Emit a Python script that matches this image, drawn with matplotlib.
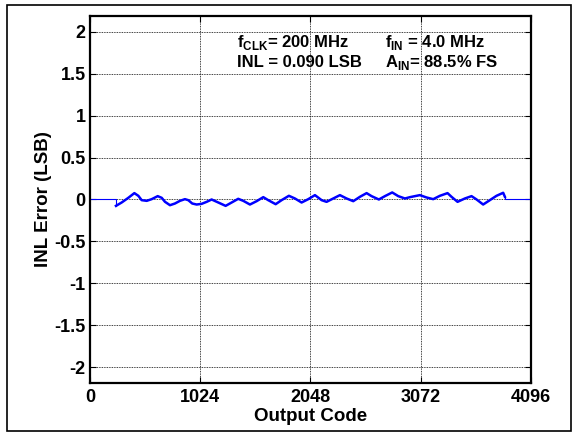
import numpy as np
import matplotlib.pyplot as plt
from matplotlib.patches import Rectangle

plt.rcParams['font.family'] = ['Liberation Sans', 'DejaVu Sans']
plt.rcParams['font.weight'] = 'bold'
plt.rcParams['mathtext.fontset'] = 'custom'
plt.rcParams['mathtext.rm'] = 'Liberation Sans:bold'
plt.rcParams['mathtext.bf'] = 'Liberation Sans:bold'

# INL curve (code, LSB)
codes = [241, 294, 356, 412, 449, 480, 527, 573, 629, 666, 697, 743, 789,
         836, 882, 913, 950, 991, 1037, 1084, 1130, 1192, 1260, 1316, 1377,
         1424, 1486, 1548, 1610, 1656, 1725, 1780, 1848, 1904, 1966, 2028,
         2090, 2152, 2198, 2260, 2322, 2384, 2446, 2508, 2570, 2616, 2684,
         2740, 2808, 2864, 2926, 2973, 3065, 3127, 3189, 3251, 3322, 3359,
         3415, 3483, 3545, 3592, 3653, 3715, 3777, 3839, 3855]
inl = [-0.076, -0.036, 0.02, 0.076, 0.044, -0.008, -0.016, 0.004, 0.04,
       0.02, -0.028, -0.068, -0.048, -0.016, 0.004, -0.008, -0.048, -0.06,
       -0.052, -0.028, 0.0, -0.036, -0.076, -0.036, 0.008, -0.016, -0.06,
       -0.02, 0.028, -0.008, -0.056, -0.008, 0.044, 0.012, -0.036, 0.004,
       0.052, -0.008, -0.028, 0.012, 0.052, 0.012, -0.02, 0.032, 0.076,
       0.04, 0.0, 0.04, 0.084, 0.04, 0.012, 0.028, 0.052, 0.024, 0.004,
       0.044, 0.076, 0.032, -0.028, 0.012, 0.04, 0.0, -0.06, -0.008, 0.044,
       0.08, 0.032]

x_ticks = [0, 1024, 2048, 3072, 4096]
y_ticks = [-2, -1.5, -1, -0.5, 0, 0.5, 1, 1.5, 2]
y_labels = ['-2', '-1.5', '-1', '-0.5', '0', '0.5', '1', '1.5', '2']

fig = plt.figure(figsize=(5.77, 4.36), dpi=100)
ax = fig.add_axes([0.156, 0.1216, 0.764, 0.8417])

# flat ends outside the measured range
ax.plot([0, codes[0], codes[0]], [0, 0, inl[0]], color='#0000ff', lw=0.8)
ax.plot([codes[-1], codes[-1], 4096], [inl[-1], 0, 0], color='#0000ff', lw=0.8)
ax.plot(codes, inl, color='#0000ff', lw=1.8)

ax.set_xlim(0, 4096)
ax.set_ylim(-2.19, 2.19)
ax.set_xticks(x_ticks)
ax.set_yticks(y_ticks)
ax.set_yticklabels(y_labels)
ax.grid(True, color='black', linestyle=(0, (1, 1)), linewidth=0.6)
ax.tick_params(direction='in', top=True, right=True, length=4, width=0.8,
               labelsize=13, pad=4)
ax.tick_params(axis='y', pad=3)
for lab in ax.get_xticklabels() + ax.get_yticklabels():
    lab.set_fontweight('bold')
for s in ax.spines.values():
    s.set_linewidth(1.6)

ax.set_xlabel('Output Code', fontsize=13.5, fontweight='bold', labelpad=2)
ax.set_ylabel('INL Error (LSB)', fontsize=13.5, fontweight='bold', labelpad=2)

txt = dict(fontsize=12, fontweight='bold', transform=fig.transFigure, va='baseline')
fig.text(0.410, 0.8933, r'f$_{\mathrm{CLK}}$= 200 MHz', **txt)
fig.text(0.410, 0.8463, 'INL = 0.090 LSB', **txt)
fig.text(0.667, 0.8933, r'f$_{\mathrm{IN}}$ = 4.0 MHz', **txt)
fig.text(0.667, 0.8463, r'A$_{\mathrm{IN}}$= 88.5% FS', **txt)

# outer frame
fig.patches.append(Rectangle((0.0116, 0.0122), 0.978, 0.9763, transform=fig.transFigure,
                             fill=False, edgecolor='black', linewidth=1.2))

fig.savefig('out.png', dpi=100)
